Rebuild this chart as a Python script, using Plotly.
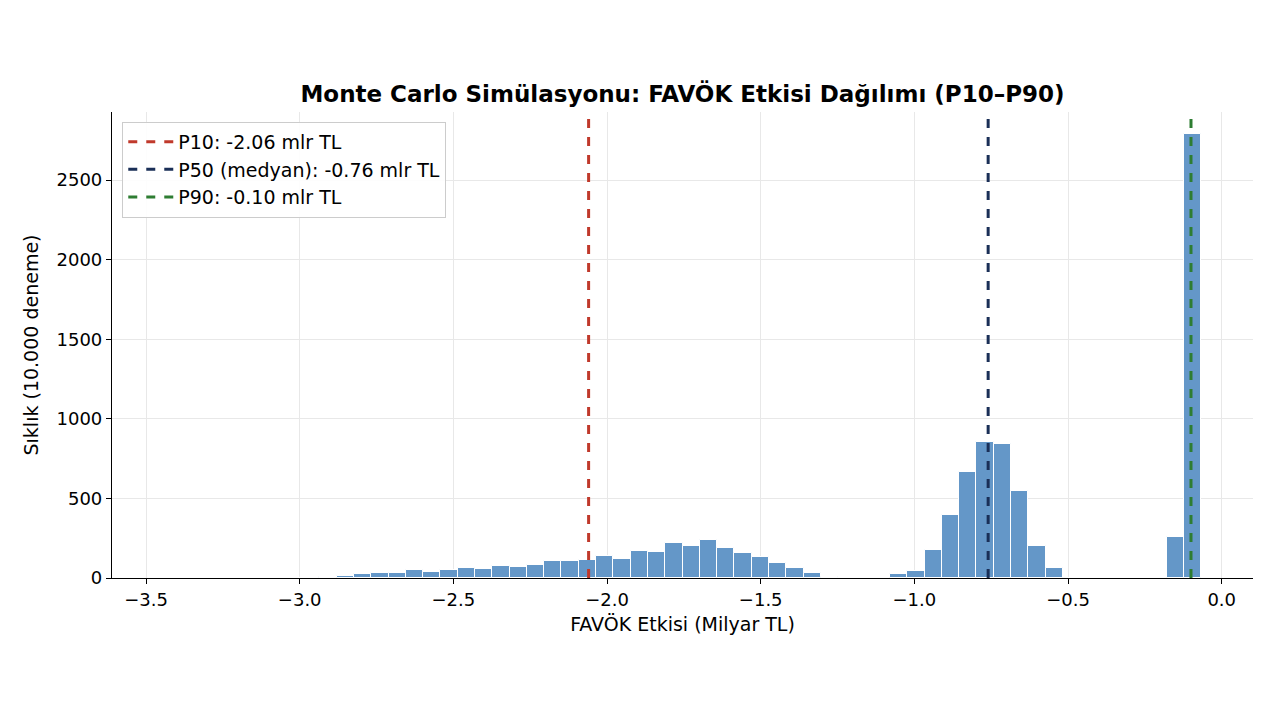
import plotly.graph_objects as go

# Histogram data (60 equal-width bins between bin_lo and bin_hi)
bin_lo = -3.442
bin_hi = -0.067
counts = [0, 0, 0, 0, 0, 0, 0, 0, 2, 8,
          15, 25, 34, 34, 48, 38, 48, 63, 57, 78,
          71, 82, 109, 109, 115, 140, 119, 168, 163, 222,
          203, 237, 186, 157, 130, 92, 61, 29, 6, 0,
          0, 0, 23, 42, 174, 394, 666, 854, 844, 549,
          203, 65, 0, 0, 0, 0, 0, 0, 260, 2789]

# Percentiles
pct_values = [-2.06, -0.76, -0.10]
pct_labels = ["P10: -2.06 mlr TL", "P50 (medyan): -0.76 mlr TL", "P90: -0.10 mlr TL"]
pct_colors = ["#c0392b", "#1a2f57", "#2e7d32"]

x_ticks = [-3.5, -3.0, -2.5, -2.0, -1.5, -1.0, -0.5, 0.0]
y_ticks = [0, 500, 1000, 1500, 2000, 2500]

n = len(counts)
w = (bin_hi - bin_lo) / n
centers = [bin_lo + (i + 0.5) * w for i in range(n)]

ymax = max(counts) * 1.05
span = bin_hi - bin_lo
xr = [bin_lo - 0.05 * span, bin_hi + 0.05 * span]

fig = go.Figure()
fig.add_trace(go.Bar(x=centers, y=counts, width=w,
                     marker=dict(color="#6497c8", line=dict(color="white", width=1)),
                     showlegend=False, hoverinfo="x+y"))
for v, lab, col in zip(pct_values, pct_labels, pct_colors):
    fig.add_trace(go.Scatter(x=[v, v], y=[0, ymax], mode="lines", name=lab,
                             line=dict(color=col, width=3, dash="dash")))

def fmt(v):
    s = f"{v:.1f}"
    return s.replace("-", "\u2212")

font = "DejaVu Sans"
fig.update_layout(
    width=1280, height=720,
    paper_bgcolor="white", plot_bgcolor="white",
    margin=dict(l=112, r=27, t=112, b=142),
    font=dict(family=font, size=18, color="black"),
    title=dict(text="<b>Monte Carlo Simülasyonu: FAVÖK Etkisi Dağılımı (P10–P90)</b>",
               x=0.5, xref="paper", xanchor="center", y=1 - 94 / 720, yanchor="middle",
               font=dict(size=23, family=font)),
    bargap=0,
    legend=dict(x=0.009, y=0.979, xanchor="left", yanchor="top",
                bgcolor="rgba(255,255,255,0.9)", bordercolor="#cccccc", borderwidth=1,
                font=dict(size=19, family=font), itemwidth=45),
    xaxis=dict(range=xr, tickvals=x_ticks, ticktext=[fmt(v) for v in x_ticks],
               showgrid=True, gridcolor="#e8e8e8", gridwidth=1,
               showline=True, linecolor="black", linewidth=1.2,
               ticks="outside", ticklen=5, tickcolor="black", zeroline=False,
               title=dict(text="FAVÖK Etkisi (Milyar TL)", font=dict(size=19), standoff=8),
               tickfont=dict(size=18)),
    yaxis=dict(range=[0, ymax], tickvals=y_ticks, ticktext=[str(v) for v in y_ticks],
               showgrid=True, gridcolor="#e8e8e8", gridwidth=1,
               showline=True, linecolor="black", linewidth=1.2,
               ticks="outside", ticklen=5, tickcolor="black", zeroline=False,
               title=dict(text="Sıklık (10.000 deneme)", font=dict(size=19), standoff=12),
               tickfont=dict(size=18)),
)

fig.write_html("out.html")
